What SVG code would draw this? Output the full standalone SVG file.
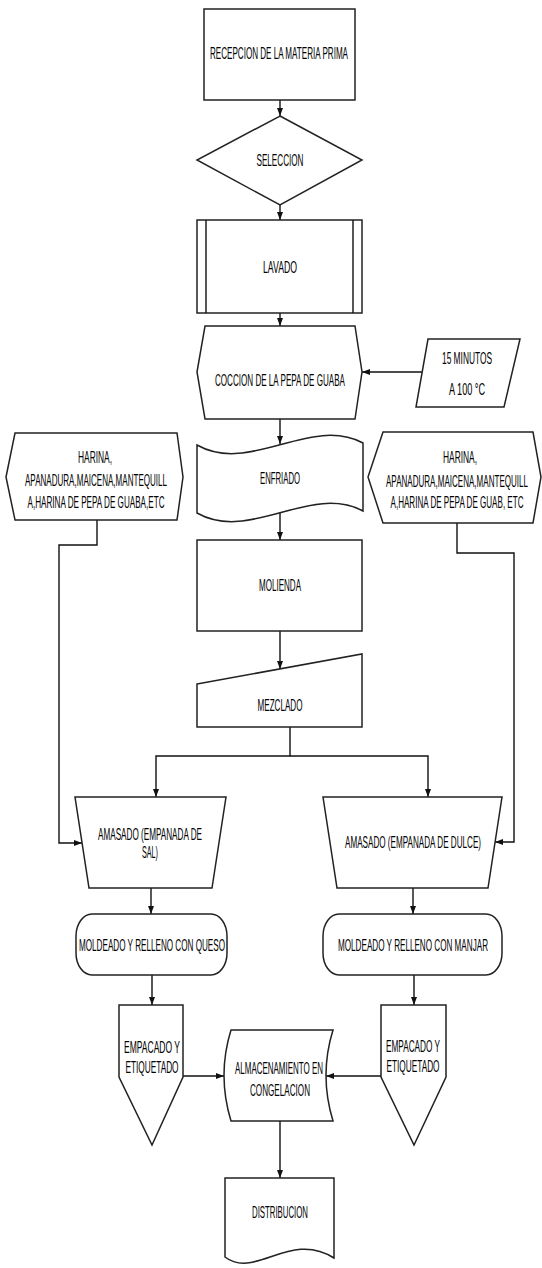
<svg xmlns="http://www.w3.org/2000/svg" width="542" height="1268" viewBox="0 0 542 1268">
<style>
.s{fill:#fff;stroke:#222;stroke-width:1.5}
.c{fill:none;stroke:#111;stroke-width:1.4}
.t{font-family:"Liberation Sans",Arial,sans-serif;font-size:16px;fill:#000;text-anchor:middle}
</style>
<defs>
<marker id="a" markerUnits="userSpaceOnUse" markerWidth="8" markerHeight="6" refX="8" refY="3" orient="auto">
<path d="M0,0 L8,3 L0,6 z" fill="#111"/>
</marker>
</defs>
<rect width="542" height="1268" fill="#fff"/>
<g id="connectors">
<path class="c" d="M280,100 V116" marker-end="url(#a)"/>
<path class="c" d="M280,205 V220" marker-end="url(#a)"/>
<path class="c" d="M280,313 V326" marker-end="url(#a)"/>
<path class="c" d="M423,372 H362" marker-end="url(#a)"/>
<path class="c" d="M280,419 V444" marker-end="url(#a)"/>
<path class="c" d="M280,513 V540" marker-end="url(#a)"/>
<path class="c" d="M280,631 V669" marker-end="url(#a)"/>
<path class="c" d="M290,727 V756 H156 V797" marker-end="url(#a)"/>
<path class="c" d="M290,756 H428 V797" marker-end="url(#a)"/>
<path class="c" d="M97,520 V545 H59 V843 H82" marker-end="url(#a)"/>
<path class="c" d="M457,523 V553 H514 V842 H495" marker-end="url(#a)"/>
<path class="c" d="M151,888 V914" marker-end="url(#a)"/>
<path class="c" d="M413,888 V914" marker-end="url(#a)"/>
<path class="c" d="M152,975 V1005" marker-end="url(#a)"/>
<path class="c" d="M414,975 V1005" marker-end="url(#a)"/>
<path class="c" d="M183,1076 H224" marker-end="url(#a)"/>
<path class="c" d="M381,1076 H326" marker-end="url(#a)"/>
<path class="c" d="M280,1121 V1178" marker-end="url(#a)"/>
</g>
<g id="recepcion">
<rect class="s" x="204" y="9" width="151" height="91"/>
<text class="t" transform="translate(279,59) scale(0.5,1)" textLength="276" lengthAdjust="spacingAndGlyphs">RECEPCION DE LA MATERIA PRIMA</text>
</g>
<g id="seleccion">
<polygon class="s" points="280,116 362,160 280,205 197,160"/>
<text class="t" transform="translate(280,166) scale(0.5,1)" textLength="94" lengthAdjust="spacingAndGlyphs">SELECCION</text>
</g>
<g id="lavado">
<rect class="s" x="197" y="220" width="165" height="93"/>
<path class="c" d="M206,220 V313 M353,220 V313"/>
<text class="t" transform="translate(280,273) scale(0.5,1)" textLength="68" lengthAdjust="spacingAndGlyphs">LAVADO</text>
</g>
<g id="coccion">
<polygon class="s" points="197,372 205,326 355,326 362,372 355,419 205,419"/>
<text class="t" transform="translate(280,386) scale(0.5,1)" textLength="260" lengthAdjust="spacingAndGlyphs">COCCION DE LA PEPA DE GUABA</text>
</g>
<g id="tiempo">
<polygon class="s" points="428,339 520,339 504,407 416,407"/>
<text class="t" transform="translate(467,364) scale(0.5,1)" textLength="100" lengthAdjust="spacingAndGlyphs">15 MINUTOS</text>
<text class="t" transform="translate(467,395) scale(0.5,1)" textLength="72" lengthAdjust="spacingAndGlyphs">A 100 °C</text>
</g>
<g id="enfriado">
<path class="s" d="M197,445 C250,475 310,415 363,443 L363,511 C310,483 250,543 197,513 Z"/>
<text class="t" transform="translate(280,484) scale(0.5,1)" textLength="80" lengthAdjust="spacingAndGlyphs">ENFRIADO</text>
</g>
<g id="ingredientes-sal">
<polygon class="s" points="6,477 15,433 177,433 183,477 177,520 15,520"/>
<text class="t" transform="translate(95,463) scale(0.5,1)" textLength="68" lengthAdjust="spacingAndGlyphs">HARINA,</text>
<text class="t" transform="translate(96,486) scale(0.5,1)" textLength="284" lengthAdjust="spacingAndGlyphs">APANADURA,MAICENA,MANTEQUILL</text>
<text class="t" transform="translate(96,508) scale(0.5,1)" textLength="274" lengthAdjust="spacingAndGlyphs">A,HARINA DE PEPA DE GUABA,ETC</text>
</g>
<g id="ingredientes-dulce">
<polygon class="s" points="368,477 383,432 533,432 541,477 533,523 383,523"/>
<text class="t" transform="translate(460,463) scale(0.5,1)" textLength="68" lengthAdjust="spacingAndGlyphs">HARINA,</text>
<text class="t" transform="translate(457,487) scale(0.5,1)" textLength="284" lengthAdjust="spacingAndGlyphs">APANADURA,MAICENA,MANTEQUILL</text>
<text class="t" transform="translate(457,508) scale(0.5,1)" textLength="266" lengthAdjust="spacingAndGlyphs">A,HARINA DE PEPA DE GUAB, ETC</text>
</g>
<g id="molienda">
<rect class="s" x="197" y="540" width="165" height="91"/>
<text class="t" transform="translate(280,591) scale(0.5,1)" textLength="84" lengthAdjust="spacingAndGlyphs">MOLIENDA</text>
</g>
<g id="mezclado">
<polygon class="s" points="197,684 362,654 362,727 197,727"/>
<text class="t" transform="translate(280,711) scale(0.5,1)" textLength="90" lengthAdjust="spacingAndGlyphs">MEZCLADO</text>
</g>
<g id="amasado-sal">
<polygon class="s" points="75,797 226,797 212,888 89,888"/>
<text class="t" transform="translate(150,840) scale(0.5,1)" textLength="208" lengthAdjust="spacingAndGlyphs">AMASADO (EMPANADA DE</text>
<text class="t" transform="translate(150,858) scale(0.5,1)" textLength="32" lengthAdjust="spacingAndGlyphs">SAL)</text>
</g>
<g id="amasado-dulce">
<polygon class="s" points="323,797 502,797 488,888 337,888"/>
<text class="t" transform="translate(413,848) scale(0.5,1)" textLength="272" lengthAdjust="spacingAndGlyphs">AMASADO (EMPANADA DE DULCE)</text>
</g>
<g id="moldeado-queso">
<rect class="s" x="76" y="914" width="151" height="61" rx="16" ry="22"/>
<text class="t" transform="translate(152,951) scale(0.5,1)" textLength="292" lengthAdjust="spacingAndGlyphs">MOLDEADO Y RELLENO CON QUESO</text>
</g>
<g id="moldeado-manjar">
<rect class="s" x="323" y="914" width="179" height="61" rx="16" ry="22"/>
<text class="t" transform="translate(413,951) scale(0.5,1)" textLength="300" lengthAdjust="spacingAndGlyphs">MOLDEADO Y RELLENO CON MANJAR</text>
</g>
<g id="empacado-sal">
<polygon class="s" points="119,1005 183,1005 183,1077 152,1145 119,1077"/>
<text class="t" transform="translate(152,1053) scale(0.5,1)" textLength="112" lengthAdjust="spacingAndGlyphs">EMPACADO Y</text>
<text class="t" transform="translate(152,1073) scale(0.5,1)" textLength="106" lengthAdjust="spacingAndGlyphs">ETIQUETADO</text>
</g>
<g id="empacado-dulce">
<polygon class="s" points="381,1005 446,1005 446,1077 414,1145 381,1077"/>
<text class="t" transform="translate(413,1052) scale(0.5,1)" textLength="108" lengthAdjust="spacingAndGlyphs">EMPACADO Y</text>
<text class="t" transform="translate(413,1072) scale(0.5,1)" textLength="106" lengthAdjust="spacingAndGlyphs">ETIQUETADO</text>
</g>
<g id="almacenamiento">
<path class="s" d="M231,1030 H333 Q319,1075 333,1121 H231 Q217,1075 231,1030 Z"/>
<text class="t" transform="translate(279,1074) scale(0.5,1)" textLength="176" lengthAdjust="spacingAndGlyphs">ALMACENAMIENTO EN</text>
<text class="t" transform="translate(280,1096) scale(0.5,1)" textLength="120" lengthAdjust="spacingAndGlyphs">CONGELACION</text>
</g>
<g id="distribucion">
<path class="s" d="M225,1178 H334 V1258 C290,1230 255,1280 225,1257 Z"/>
<text class="t" transform="translate(280,1218) scale(0.5,1)" textLength="112" lengthAdjust="spacingAndGlyphs">DISTRIBUCION</text>
</g>
</svg>
